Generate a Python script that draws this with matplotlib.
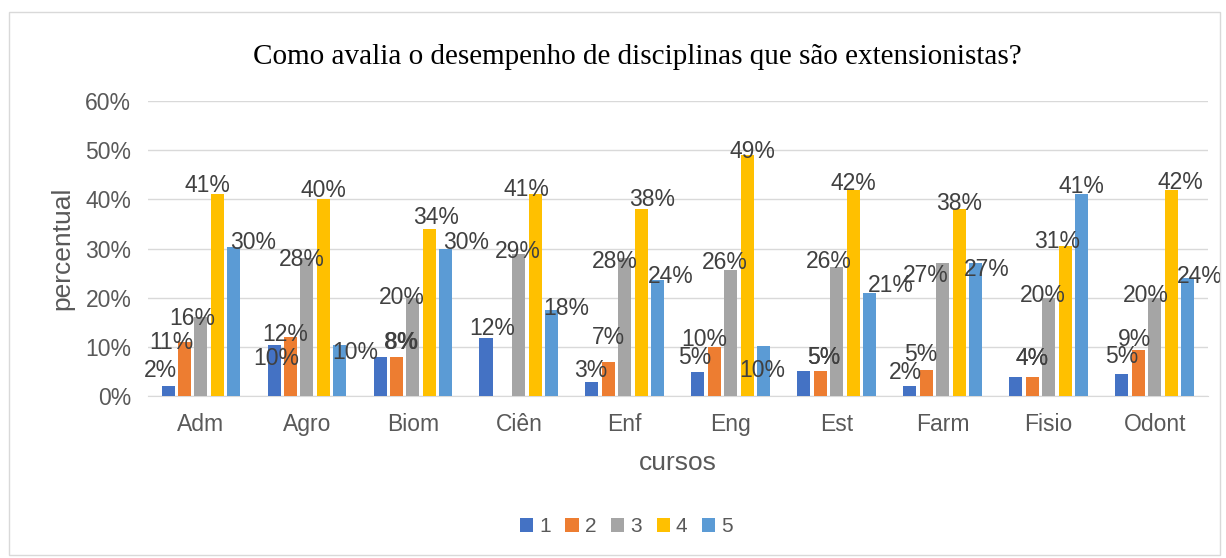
import numpy as np
import matplotlib.pyplot as plt
from matplotlib.patches import Rectangle

cursos = ['Adm', 'Agro', 'Biom', 'Ciên', 'Enf', 'Eng', 'Est', 'Farm', 'Fisio', 'Odont']
s1 = [0.02, 0.104, 0.08, 0.118, 0.028, 0.05, 0.052, 0.02, 0.04, 0.046]
s2 = [0.11, 0.12, 0.08, np.nan, 0.07, 0.10, 0.052, 0.053, 0.04, 0.093]
s3 = [0.16, 0.28, 0.20, 0.29, 0.28, 0.256, 0.262, 0.27, 0.20, 0.20]
s4 = [0.41, 0.40, 0.34, 0.41, 0.38, 0.49, 0.42, 0.38, 0.306, 0.42]
s5 = [0.303, 0.104, 0.30, 0.176, 0.236, 0.102, 0.21, 0.27, 0.41, 0.24]
series = [s1, s2, s3, s4, s5]
nomes = ['1', '2', '3', '4', '5']
cores = ['#4472c4', '#ed7d31', '#a5a5a5', '#ffc000', '#5b9bd5']

# where Excel pushed each data label (pixels from the top-centre of its bar)
desloc = {
    'Adm':   [(-8, 16), (-13, 0), (-9, -1), (-10, 9), (19, 5)],
    'Agro':  [(2, -13), (-5, 3), (-5, -1), (0, 9), (15, -7)],
    'Biom':  [(21, 14), (5, 14), (-11, 0), (7, 11), (20, 6)],
    'Ciên':  [(6, 10), (0, 0), (-1, 2), (-9, 5), (15, 1)],
    'Enf':   [(-1, 12), (0, 24), (-10, -3), (11, 10), (13, 4)],
    'Eng':   [(-3, 14), (-10, 7), (-6, 8), (5, 4), (-1, -25)],
    'Est':   [(20, 13), (3, 13), (-8, 6), (0, 6), (21, 7)],
    'Farm':  [(-4, 14), (-6, 16), (-17, -12), (0, 6), (11, -6)],
    'Fisio': [(16, 18), (0, 18), (-6, 2), (-8, 4), (0, 8)],
    'Odont': [(0, 17), (-4, 11), (-9, 2), (9, 7), (12, 2)],
}

plt.rcParams['font.family'] = ['Liberation Sans', 'DejaVu Sans']
fig = plt.figure(figsize=(12.26, 5.58), dpi=100)
fig.patches.append(Rectangle((0.007, 0.006), 0.988, 0.973, transform=fig.transFigure,
                             fill=False, edgecolor='#d9d9d9', lw=1))
ax = fig.add_axes([0.1207, 0.290, 0.8643, 0.529])

x = np.arange(len(cursos))
w = 0.123
pitch = 0.155
for i, (vals, nome, cor) in enumerate(zip(series, nomes, cores)):
    pos = x + (i - 2) * pitch
    ax.bar(pos, vals, width=w, color=cor, label=nome, zorder=3)
    for j, (p, v) in enumerate(zip(pos, vals)):
        if np.isnan(v):
            continue
        ax.annotate(f'{round(v * 100):.0f}%', xy=(p, v), xytext=desloc[cursos[j]][i],
                    textcoords='offset pixels', ha='center', va='center',
                    fontsize=16.5, color='#404040', zorder=4)

ax.set_ylim(0, 0.6)
ax.set_xlim(-0.5, len(cursos) - 0.5)
ax.set_yticks(np.arange(0, 0.61, 0.1))
ax.set_yticklabels([f'{t}%' for t in range(0, 61, 10)])
ax.set_xticks(x)
ax.set_xticklabels(cursos)
ax.tick_params(colors='#595959', labelsize=16.5, length=0, pad=12)
ax.grid(axis='y', color='#d9d9d9', lw=1, zorder=0)
for s in ['top', 'right', 'left']:
    ax.spines[s].set_visible(False)
ax.spines['bottom'].set_color('#d9d9d9')
ax.set_ylabel('percentual', fontsize=19, color='#595959', labelpad=8)
ax.set_xlabel('cursos', fontsize=19, color='#595959', labelpad=11)
fig.text(0.52, 0.897, 'Como avalia o desempenho de disciplinas que são extensionistas?',
         ha='center', va='center', fontsize=21, family='Liberation Serif', color='black')
fig.legend(loc='center', bbox_to_anchor=(0.511, 0.056), ncol=5, frameon=False,
           fontsize=15, labelcolor='#595959', handlelength=0.63, handleheight=0.63,
           handletextpad=0.3, columnspacing=0.7)
fig.savefig('out.png')
